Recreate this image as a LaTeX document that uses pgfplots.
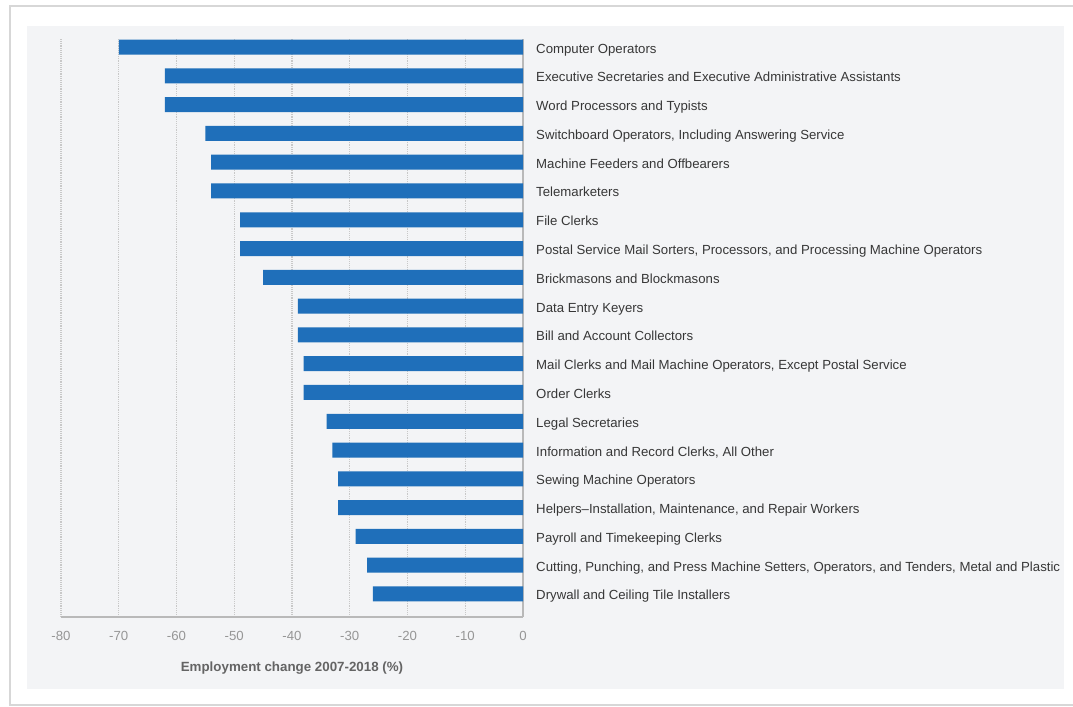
\documentclass[border=0pt]{standalone}
\usepackage{pgfplots}
\pgfplotsset{compat=1.18}
\usepackage{fontspec}
\setmainfont{Liberation Sans}
\definecolor{barblue}{RGB}{31,111,186}
\definecolor{panel}{RGB}{243,244,246}
\definecolor{labtxt}{RGB}{55,55,55}
\definecolor{ticktxt}{RGB}{150,150,150}
\definecolor{titletxt}{RGB}{100,100,100}
\definecolor{gridc}{RGB}{200,200,200}
\definecolor{axisc}{RGB}{185,185,185}
\definecolor{cardline}{RGB}{215,215,215}
\begin{document}
\begin{tikzpicture}
\path[use as bounding box] (0pt,0pt) rectangle (804.75pt,-529.5pt);
\fill[white] (0pt,0pt) rectangle (804.75pt,-529.5pt);
\draw[cardline, line width=1.5pt] (810pt,-4.5pt) -- (7.5pt,-4.5pt) -- (7.5pt,-528.5pt) -- (810pt,-528.5pt);
\fill[panel] (20.25pt,-19.5pt) rectangle (798pt,-516.75pt);
\begin{scope}
\clip (20.25pt,-19.5pt) rectangle (798pt,-516.75pt);
\begin{axis}[
  at={(45.75pt,-462.75pt)}, anchor=south west,
  scale only axis, width=346.5pt, height=433.5pt,
  xbar, bar width=11.25pt, y dir=reverse,
  xmin=-80, xmax=0, ymin=-0.28, ymax=19.8,
  axis x line=bottom, axis y line=right,
  axis line style={draw=axisc, line width=1pt, -},
  xtick={-80,-70,...,0},
  ytick={0,...,19},
  major tick length=0pt,
  xmajorgrids, grid style={densely dotted, gridc, line width=0.8pt},
  /pgf/number format/assume math mode=true,
  xticklabel style={font=\fontsize{9.9}{12}\selectfont, text=ticktxt, anchor=center, yshift=-14.25pt},
  yticklabel style={font=\fontsize{9.9}{12}\selectfont, text=labtxt, anchor=base west, xshift=6.4pt, yshift=-4.5pt},
  yticklabels={
    Computer Operators,
    Executive Secretaries and Executive Administrative Assistants,
    Word Processors and Typists,
    {Switchboard Operators, Including Answering Service},
    Machine Feeders and Offbearers,
    Telemarketers,
    File Clerks,
    {Postal Service Mail Sorters, Processors, and Processing Machine Operators},
    Brickmasons and Blockmasons,
    Data Entry Keyers,
    Bill and Account Collectors,
    {Mail Clerks and Mail Machine Operators, Except Postal Service},
    Order Clerks,
    Legal Secretaries,
    {Information and Record Clerks, All Other},
    Sewing Machine Operators,
    {Helpers--Installation, Maintenance, and Repair Workers},
    Payroll and Timekeeping Clerks,
    {Cutting, Punching, and Press Machine Setters, Operators, and Tenders, Metal and Plastic},
    Drywall and Ceiling Tile Installers},
  xlabel={Employment change 2007-2018 (\%)},
  xlabel style={font=\fontsize{10}{12}\selectfont\bfseries, text=titletxt, at={(axis description cs:0.5,0)}, anchor=center, yshift=-38pt},
]
\addplot[fill=barblue, draw=none] coordinates {
  (-70,0) (-62,1) (-62,2) (-55,3) (-54,4) (-54,5) (-49,6) (-49,7) (-45,8) (-39,9)
  (-39,10) (-38,11) (-38,12) (-34,13) (-33,14) (-32,15) (-32,16) (-29,17) (-27,18) (-26,19)
};
\end{axis}
\end{scope}
\end{tikzpicture}
\end{document}
